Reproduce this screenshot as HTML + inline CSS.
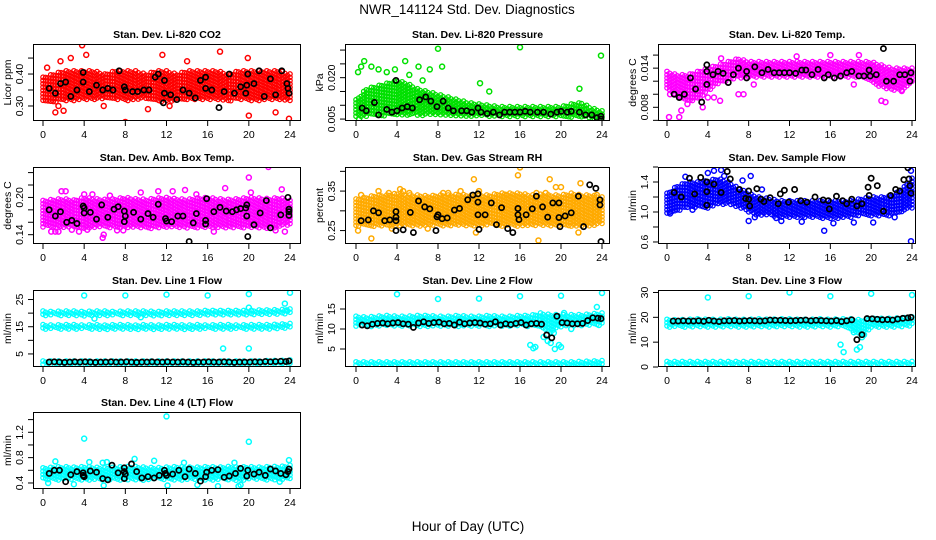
<!DOCTYPE html>
<html><head><meta charset="utf-8"><style>
html,body{margin:0;padding:0;background:#fff;}
svg{display:block;font-family:"Liberation Sans",Arial,sans-serif;}
</style></head><body>
<svg id="chart" width="936" height="540" viewBox="0 0 936 540" xmlns="http://www.w3.org/2000/svg">
<rect width="936" height="540" fill="#fff"/>
<text x="467" y="14" text-anchor="middle" font-size="13.5">NWR_141124  Std. Dev. Diagnostics</text>
<text x="468" y="531" text-anchor="middle" font-size="13.5">Hour of Day (UTC)</text>
</svg>
<script>
// ---------------- DATA ----------------
const hourTicks = [0,4,8,12,16,20,24];
const bandHours = [0,1,2,3,4,5,6,7,8,9,10,11,12,13,14,15,16,17,18,19,20,21,22,23,24];

// P1 CO2
const co2Lo = [0.315,0.31,0.315,0.315,0.32,0.32,0.32,0.32,0.315,0.32,0.32,0.315,0.31,0.315,0.32,0.32,0.32,0.32,0.315,0.32,0.315,0.315,0.32,0.315,0.315];
const co2Hi = [0.39,0.4,0.41,0.41,0.41,0.41,0.4,0.41,0.41,0.41,0.4,0.41,0.41,0.4,0.41,0.41,0.41,0.41,0.4,0.41,0.41,0.41,0.41,0.41,0.4];
const co2Out = [[1.2,0.28],[2,0.285],[3.8,0.49],[4.2,0.46],[8,0.25],[11.6,0.46],[17.2,0.47],[20,0.27],[23.9,0.26],[1.7,0.44],[2.7,0.45],[10.2,0.29],[22.6,0.28],[0.4,0.42],[1.5,0.3],[5.9,0.3],[14,0.44],[19.9,0.45],[12.3,0.3]];
const co2Black = [[0.6,0.355],[1.2,0.34],[1.7,0.37],[2.2,0.375],[2.7,0.33],[3.3,0.35],[3.9,0.405],[3.9,0.375],[4.5,0.345],[5.2,0.365],[5.8,0.35],[6.3,0.355],[6.8,0.35],[7.4,0.41],[7.9,0.36],[8,0.35],[8.7,0.345],[9.2,0.345],[9.8,0.35],[10.3,0.35],[10.9,0.39],[11.2,0.4],[11.7,0.31],[11.8,0.34],[11.8,0.38],[12.4,0.335],[13,0.32],[13.6,0.35],[14.2,0.34],[14.8,0.325],[15.3,0.38],[15.8,0.39],[15.8,0.355],[16.4,0.35],[17.1,0.295],[17.6,0.345],[18.1,0.4],[18.6,0.34],[19.2,0.36],[19.7,0.34],[19.8,0.365],[19.9,0.4],[20.5,0.37],[21,0.41],[21.5,0.33],[22.1,0.385],[22.6,0.335],[23.2,0.41],[23.7,0.37],[23.8,0.355],[23.9,0.34]];

// P2 Pressure
const presLo = [0.0055,0.006,0.006,0.0062,0.0062,0.0063,0.0063,0.0063,0.0063,0.0062,0.006,0.006,0.006,0.0058,0.0058,0.0058,0.0058,0.0058,0.0058,0.0058,0.0056,0.0056,0.0055,0.005,0.005];
const presHi = [0.012,0.016,0.017,0.018,0.019,0.018,0.016,0.015,0.014,0.013,0.012,0.011,0.0105,0.01,0.0095,0.0095,0.0095,0.0095,0.0095,0.0095,0.0095,0.0105,0.011,0.009,0.008];
const presOut = [[0.2,0.022],[0.5,0.024],[0.8,0.026],[1.5,0.024],[2.2,0.023],[3,0.022],[3.8,0.023],[4.8,0.026],[5.2,0.021],[6.1,0.024],[7.2,0.023],[8,0.0305],[8.4,0.024],[12.1,0.018],[16,0.031],[23.9,0.028],[0.3,0.005],[13,0.015],[21.8,0.016],[6.5,0.019]];
const presBlack = [[0.6,0.009],[1,0.008],[1.8,0.011],[2.2,0.0065],[3,0.0085],[3.5,0.0075],[3.9,0.019],[4,0.008],[4.5,0.009],[5,0.0095],[5.5,0.009],[6.2,0.012],[6.8,0.013],[7.3,0.0115],[7.9,0.0095],[8.5,0.0115],[9,0.009],[9.5,0.008],[10.3,0.008],[10.8,0.008],[11.3,0.0075],[11.9,0.009],[12.2,0.0075],[12.8,0.007],[13.4,0.0075],[14,0.0065],[14.5,0.0075],[15,0.0075],[15.5,0.0075],[16,0.0075],[16.5,0.0078],[17,0.0075],[17.7,0.0075],[18.3,0.0075],[19,0.0068],[19.6,0.0075],[20,0.0078],[20.6,0.0075],[21,0.0078],[21.8,0.0075],[22.4,0.0065],[23,0.0065],[23.5,0.0055],[23.9,0.006],[23.9,0.005]];

// P3 Temp
const tempLo = [0.0105,0.0095,0.009,0.009,0.0105,0.0115,0.012,0.0125,0.0125,0.0125,0.0125,0.0125,0.0125,0.0125,0.0125,0.0125,0.0125,0.0125,0.0125,0.0125,0.012,0.011,0.0105,0.0105,0.0115];
const tempHi = [0.0135,0.013,0.013,0.0135,0.014,0.0145,0.015,0.0155,0.015,0.015,0.015,0.015,0.015,0.015,0.015,0.015,0.015,0.015,0.015,0.015,0.015,0.0145,0.014,0.014,0.014];
const tempOut = [[0.2,0.0065],[0.3,0.01],[1.2,0.0065],[1.4,0.0075],[2,0.0085],[2.5,0.0095],[3.5,0.008],[4,0.0095],[4.6,0.0095],[5.2,0.009],[7,0.01],[7.5,0.01],[8.5,0.0115],[18.3,0.0115],[18.8,0.016],[21,0.009],[21.4,0.0088],[23,0.0105],[5.3,0.0155],[16,0.016],[12.7,0.0158]];
const tempBlack = [[0.7,0.01],[1.2,0.0095],[1.7,0.01],[2.3,0.0125],[2.8,0.0108],[3.4,0.0088],[3.9,0.0145],[3.9,0.0135],[3.9,0.0115],[4.5,0.013],[5,0.0135],[5.5,0.0132],[6,0.0118],[6.5,0.013],[7,0.014],[7.8,0.0135],[7.8,0.0125],[8.6,0.0142],[9.3,0.0133],[9.9,0.0138],[10.5,0.0133],[11,0.0133],[11.5,0.0133],[12,0.0133],[12.6,0.0132],[13.2,0.0137],[13.6,0.0137],[14.2,0.013],[14.8,0.0138],[15.4,0.0125],[15.8,0.013],[16.4,0.0125],[17,0.0128],[17.6,0.0133],[18.1,0.0135],[18.8,0.0128],[19.3,0.0128],[19.8,0.0137],[19.9,0.0128],[20.5,0.013],[21.2,0.017],[21.5,0.012],[22.2,0.012],[22.8,0.013],[23.3,0.013],[23.8,0.012],[23.9,0.0133]];

// P4 Amb Box Temp
const ambLo = [0.152,0.15,0.15,0.152,0.15,0.15,0.152,0.15,0.15,0.152,0.15,0.15,0.15,0.152,0.15,0.15,0.152,0.15,0.15,0.152,0.15,0.15,0.15,0.152,0.155];
const ambHi = [0.195,0.197,0.198,0.196,0.2,0.198,0.197,0.198,0.2,0.198,0.197,0.199,0.2,0.198,0.197,0.199,0.2,0.198,0.197,0.198,0.2,0.199,0.198,0.2,0.195];
const ambOut = [[0.8,0.145],[1.2,0.145],[1.5,0.145],[1.8,0.21],[2.2,0.21],[2.8,0.148],[3.5,0.145],[4,0.205],[4.3,0.148],[5.8,0.135],[6.5,0.203],[7.2,0.147],[7.8,0.147],[9.5,0.208],[11.2,0.21],[12.6,0.21],[13.8,0.212],[14.9,0.205],[16.6,0.145],[17.7,0.215],[20,0.232],[20.2,0.208],[21.9,0.249],[22.6,0.147],[23.5,0.145],[23.2,0.213],[4.8,0.205],[5.9,0.14]];
const ambBlack = [[0.6,0.18],[1.2,0.17],[1.7,0.177],[2.3,0.16],[2.8,0.163],[3.3,0.158],[3.9,0.186],[4,0.183],[4,0.175],[4.6,0.176],[5.2,0.165],[5.7,0.188],[6.3,0.168],[6.9,0.181],[7.3,0.185],[7.9,0.161],[7.9,0.178],[8,0.17],[8.8,0.176],[9.5,0.165],[10.2,0.174],[10.7,0.168],[11.2,0.189],[11.9,0.166],[12,0.162],[12.5,0.161],[13.1,0.17],[13.6,0.17],[14.2,0.129],[14.6,0.159],[14.9,0.174],[15.8,0.163],[15.8,0.157],[15.9,0.198],[16.6,0.177],[17.2,0.184],[17.8,0.178],[18.4,0.177],[18.8,0.18],[19.2,0.182],[19.7,0.183],[19.8,0.188],[19.8,0.17],[19.9,0.137],[20.5,0.156],[21.1,0.175],[21.7,0.195],[22.1,0.151],[23.1,0.172],[23.8,0.2],[23.9,0.181],[23.9,0.177],[23.9,0.171]];

// P5 Gas stream RH
const rhLo = [0.26,0.262,0.26,0.262,0.26,0.262,0.26,0.26,0.262,0.26,0.262,0.26,0.26,0.262,0.26,0.262,0.26,0.26,0.262,0.26,0.262,0.26,0.26,0.262,0.265];
const rhHi = [0.33,0.335,0.34,0.34,0.345,0.34,0.34,0.338,0.34,0.34,0.342,0.34,0.34,0.34,0.345,0.345,0.345,0.34,0.342,0.34,0.34,0.345,0.34,0.34,0.335];
const rhOut = [[0.2,0.25],[0.5,0.34],[1.5,0.23],[2.2,0.35],[3.2,0.345],[3.5,0.255],[4.3,0.355],[4.6,0.35],[5.2,0.345],[6,0.33],[7,0.255],[8.5,0.345],[9,0.345],[10.2,0.35],[11.5,0.38],[11.7,0.245],[12,0.35],[14.7,0.34],[15.8,0.39],[16,0.41],[17.6,0.345],[17.8,0.225],[18.5,0.345],[18.9,0.38],[19.5,0.36],[20,0.36],[21.9,0.37],[21.7,0.245],[23.5,0.34]];
const rhBlack = [[0.5,0.275],[1.2,0.277],[1.7,0.3],[2.2,0.295],[2.8,0.275],[3.3,0.277],[3.9,0.298],[3.9,0.284],[3.9,0.275],[3.9,0.25],[4.6,0.252],[5.3,0.296],[5.6,0.245],[6.1,0.325],[6.7,0.31],[7.2,0.305],[7.8,0.25],[7.9,0.285],[8,0.29],[8.4,0.28],[8.9,0.282],[9.6,0.302],[10.1,0.306],[10.9,0.328],[11.4,0.34],[11.9,0.343],[11.9,0.322],[11.9,0.29],[12,0.253],[12.6,0.29],[13.2,0.32],[13.7,0.265],[14.2,0.308],[14.8,0.255],[15.3,0.245],[15.8,0.306],[15.8,0.29],[15.9,0.278],[16.6,0.29],[17.2,0.305],[17.6,0.337],[18.2,0.31],[18.7,0.284],[19.2,0.32],[19.8,0.32],[19.8,0.283],[19.9,0.26],[20.4,0.287],[21,0.295],[21.7,0.337],[22.2,0.26],[22.8,0.366],[23.4,0.357],[23.8,0.328],[23.8,0.315],[23.9,0.222]];

// P6 Sample flow
const sfLo = [0.98,1.0,1.05,1.05,1.05,1.1,1.1,1.05,1.0,0.95,0.95,0.92,0.92,0.92,0.92,0.92,0.9,0.92,0.92,0.95,0.95,0.95,0.95,0.98,1.05];
const sfHi = [1.25,1.35,1.4,1.4,1.42,1.45,1.4,1.32,1.25,1.2,1.18,1.15,1.15,1.15,1.15,1.15,1.15,1.15,1.15,1.18,1.2,1.2,1.22,1.3,1.45];
const sfOut = [[0.3,0.98],[1.8,1.47],[2.5,1.03],[4,1.52],[4.6,1.55],[5.3,1.56],[5.6,1.48],[7.4,1.42],[8.2,1.48],[8,0.88],[8.6,0.93],[10.7,0.92],[11.2,0.88],[13.2,0.87],[15.4,0.75],[16.3,0.85],[18.3,0.86],[20.2,0.86],[22.3,0.93],[23.9,0.61],[23.9,1.55],[9.3,1.3]];
const sfBlack = [[0.7,1.26],[1.4,1.2],[2.2,1.45],[2.7,1.24],[3.3,1.46],[3.9,1.4],[3.9,1.27],[3.9,1.09],[4.6,1.37],[5.3,1.26],[5.9,1.54],[6.2,1.44],[7.1,1.3],[7.7,1.18],[8,1.28],[8,1.17],[8.1,1.08],[8.8,1.31],[9.2,1.17],[9.5,1.14],[10.1,1.19],[10.9,1.11],[11.1,1.24],[11.5,1.29],[11.9,1.13],[12.5,1.3],[13.1,1.15],[13.7,1.13],[14.5,1.2],[15.3,1.16],[15.8,1.15],[15.9,1.04],[16.6,1.21],[17.2,1.15],[17.6,1.11],[18.1,1.17],[18.6,1.08],[19.1,1.11],[19.7,1.33],[19.8,1.22],[20,1.45],[20.6,1.35],[21.2,1.01],[21.9,1.22],[22.4,1.3],[22.8,1.28],[23.2,1.43],[23.6,1.59],[23.7,1.44],[23.8,1.35],[23.9,1.25]];

// Row 3 black-point hours
const blackHours = [0.6,1.1,1.6,2.1,2.6,3.1,3.6,4.1,4.6,5.1,5.6,6.1,6.6,7.1,7.6,8.1,8.6,9.1,9.6,10.1,10.6,11.1,11.6,12.1,12.6,13.1,13.6,14.1,14.6,15.1,15.6,16.1,16.6,17.1,17.6,18.1,18.6,19.1,19.6,20.1,20.6,21.1,21.6,22.1,22.6,23.1,23.6,23.9];

// P7 Line 1
const l1UpLo = [19,19,19,19,18.8,19,19,19,19,19,19,19,19,19,19,19,19,19,19,19,19.2,19.2,19.2,19.3,19.5];
const l1UpHi = [20.8,20.6,20.8,20.8,20.6,20.8,20.8,20.6,20.8,20.8,20.8,20.6,20.8,20.8,20.8,20.8,21,21,21,21,21,21.2,21.2,21.3,21.5];
const l1MidLo = [14,14,14,14,14,14,14,14,14,14,14,14,14,14,14,14,14,14,14,14,14,14,14,14,14.5];
const l1MidHi = [15.8,15.6,15.8,15.8,15.6,15.8,15.6,15.8,15.8,15.6,15.8,15.6,15.8,15.8,15.6,15.8,15.6,15.8,15.8,15.6,15.8,15.8,15.8,16,16.2];
const l1LowLo = [1,1,1,1,1,1,1,1,1,1,1,1,1,1,1,1,1,1,1,1,1,1,1,1,1];
const l1LowHi = [2.4,2.4,2.4,2.4,2.4,2.4,2.4,2.4,2.4,2.4,2.4,2.4,2.4,2.4,2.4,2.4,2.4,2.4,2.4,2.4,2.4,2.4,2.6,2.6,2.8];
const l1Out = [[4,26.5],[8,26.5],[12,26.8],[16,26.5],[20,27],[24,27.5],[17.5,7],[20,7],[20,22],[23.5,23.5],[23.7,21],[5,18],[9.5,18.5]];
const l1Black = [2.0,2.1,2.0,1.9,2.0,2.1,2.0,2.1,2.0,1.9,2.0,2.0,2.1,2.0,2.0,2.1,2.0,1.9,2.0,2.0,2.1,2.0,2.0,2.1,2.0,2.0,2.1,2.0,1.9,2.0,2.0,2.1,2.0,2.0,2.1,2.0,1.9,2.0,2.0,2.0,2.1,2.0,2.2,2.1,2.2,2.3,2.2,2.4];

// P8 Line 2
const l2UpLo = [10.6,10.6,10.6,10.6,10.7,10.6,10.6,10.6,10.7,10.6,10.6,10.6,10.7,10.6,10.6,10.6,10.7,10.6,10,9,10.5,10.6,10.6,10.8,11];
const l2UpHi = [13.2,13,13.2,13.4,13.2,13.2,13.4,13.4,13.2,13.2,13.4,13.2,13.2,13.4,13.2,13.2,13.4,13.4,14,13.6,13.6,13.6,13.6,13.8,14];
const l2LowLo = [0.7,0.7,0.7,0.7,0.7,0.7,0.7,0.7,0.7,0.7,0.7,0.7,0.7,0.7,0.7,0.7,0.7,0.7,0.7,0.7,0.7,0.7,0.7,0.7,0.7];
const l2LowHi = [1.8,1.8,1.8,1.8,1.8,1.8,1.8,1.8,1.8,1.8,1.8,1.8,1.8,1.8,1.8,1.8,1.8,1.8,1.8,1.8,1.8,1.8,1.9,2,2.1];
const l2Out = [[4,18.7],[8,17.5],[12,17.6],[16,18.2],[20,18.3],[24,19],[17,6],[17.5,5.5],[17.3,5.2],[18.3,8],[18.7,7],[19,6.5],[19.4,5],[19.8,6],[20,5.5],[19.3,9],[20.3,14],[21,10],[23.5,15.5],[23.7,11]];
const l2Black = [11.0,10.8,11.2,11.4,11.5,11.3,11.5,11.6,11.3,11.2,10.4,11.5,11.8,11.4,11.6,11.7,11.3,11.4,11.0,11.7,11.3,11.5,11.6,11.5,11.2,11.3,11.8,11.0,11.3,11.1,11.4,11.6,11.0,11.3,11.4,11.2,8.5,7.8,13.2,11.6,11.5,11.3,11.3,11.4,12.1,12.8,12.7,12.6];

// P9 Line 3
const l3UpLo = [16,16,16,16,16,16,16,16,16,16,16,16,16,16,16,16,16,16,15,12,16,16,16,16,16.5];
const l3UpHi = [19.2,19,19.2,19.4,19.2,19.2,19.4,19.2,19.2,19.4,19.2,19.4,19.4,19.2,19.2,19.4,19.2,19.4,19.4,19,19.6,19.6,19.6,19.8,20.2];
const l3LowLo = [0.7,0.7,0.7,0.7,0.7,0.7,0.7,0.7,0.7,0.7,0.7,0.7,0.7,0.7,0.7,0.7,0.7,0.7,0.7,0.7,0.7,0.7,0.7,0.7,0.7];
const l3LowHi = [2.2,2.2,2.2,2.2,2.2,2.2,2.2,2.2,2.2,2.2,2.2,2.2,2.2,2.2,2.2,2.2,2.2,2.2,2.2,2.2,2.2,2.2,2.2,2.2,2.2];
const l3Out = [[4,28],[8,28.5],[12,30],[16,28.5],[20,29.5],[24,29],[17,9],[17.3,6],[18.6,7],[18.9,8],[19.1,12],[19.3,13],[18.3,14]];
const l3Black = [18.5,18.5,18.6,18.5,18.5,18.6,18.4,18.8,18.5,18.3,18.6,18.6,18.7,18.5,18.6,18.7,18.6,18.5,18.6,18.9,18.8,18.8,18.7,18.6,18.7,18.8,18.9,18.6,18.8,18.7,18.6,18.5,18.7,18.3,18.6,19.0,11.0,13.0,19.5,19.4,19.2,19.0,19.1,18.9,19.3,19.6,19.8,20.0];

// P10 Line 4 (LT)
const l4Lo = [0.45,0.44,0.45,0.45,0.44,0.45,0.45,0.44,0.45,0.45,0.44,0.45,0.45,0.44,0.45,0.45,0.44,0.45,0.45,0.44,0.45,0.45,0.44,0.45,0.46];
const l4Hi = [0.64,0.65,0.66,0.65,0.66,0.65,0.64,0.65,0.66,0.66,0.65,0.64,0.65,0.66,0.65,0.65,0.66,0.65,0.66,0.65,0.66,0.65,0.66,0.66,0.68];
const l4Out = [[4,1.1],[12,1.45],[20,1.05],[4.5,0.73],[1.2,0.74],[8.9,0.78],[10.8,0.75],[13.7,0.72],[18.6,0.72],[23.9,0.76],[0.5,0.4],[3,0.38],[5.9,0.36],[12.1,0.36],[17,0.35],[19,0.35],[19.2,0.37],[15,0.37],[23,0.42],[5.8,0.72],[6.2,0.73]];
const l4Black = [[0.6,0.55],[1.1,0.6],[1.6,0.6],[2.2,0.42],[2.7,0.53],[3.3,0.58],[3.9,0.56],[3.9,0.52],[4,0.5],[4.6,0.59],[5.2,0.57],[5.8,0.47],[6.3,0.45],[6.7,0.68],[7.3,0.56],[7.9,0.64],[7.9,0.58],[8,0.54],[7.9,0.47],[8.6,0.7],[9.1,0.58],[9.6,0.48],[10.2,0.5],[10.8,0.48],[11.3,0.52],[11.8,0.6],[11.9,0.55],[12,0.52],[12.6,0.54],[13.2,0.6],[13.8,0.5],[14.2,0.62],[14.8,0.55],[15.3,0.43],[15.8,0.5],[15.9,0.57],[16.4,0.6],[17,0.61],[17.6,0.49],[18.1,0.51],[18.7,0.55],[19.2,0.63],[19.8,0.51],[19.9,0.6],[20.5,0.54],[21,0.57],[21.6,0.52],[22.1,0.62],[22.6,0.59],[23.1,0.55],[23.6,0.53],[23.8,0.58],[23.9,0.62]];

// tick values and labels
const co2Ticks=[0.30,0.35,0.40,0.45], co2Labels=["0.30","","0.40",""];
const presTicks=[0.005,0.010,0.015,0.020,0.025,0.030], presLabels=["0.005","","","0.020","",""];
const tempTicks=[0.006,0.008,0.010,0.012,0.014,0.016], tempLabels=["","0.008","","","0.014",""];
const ambTicks=[0.14,0.16,0.18,0.20,0.22,0.24], ambLabels=["0.14","","","0.20","",""];
const rhTicks=[0.25,0.30,0.35,0.40], rhLabels=["0.25","","0.35",""];
const sfTicks=[0.6,0.8,1.0,1.2,1.4,1.6], sfLabels=["0.6","","1.0","","1.4",""];
const l1Ticks=[5,10,15,20,25], l1Labels=["5","","15","","25"];
const l2Ticks=[5,10,15], l2Labels=["5","10","15"];
const l3Ticks=[0,10,20,30], l3Labels=["0","10","20","30"];
const l4Ticks=[0.4,0.6,0.8,1.0,1.2,1.4], l4Labels=["0.4","","0.8","","1.2",""];

// ---------------- RENDER ----------------
const NS="http://www.w3.org/2000/svg";
const svg=document.getElementById('chart');
const cols=[{l:33,r:301,x0:43,x24:290},{l:345,r:610,x0:356,x24:602},{l:658,r:916,x0:667,x24:912}];
const rowTops=[44,167,290,412];
const BH=77;
function el(tag,attrs,parent){const e=document.createElementNS(NS,tag);for(const k in attrs)e.setAttribute(k,attrs[k]);(parent||svg).appendChild(e);return e;}

function drawPanel(p){
  const c=cols[p.col], top=rowTops[p.row], bot=top+BH;
  const g=el('g',{});
  
  
  const xs=h=>c.x0+h*(c.x24-c.x0)/24;
  const ys=v=>bot-(v-p.ylim[0])/(p.ylim[1]-p.ylim[0])*BH;
  const clip='clip-'+p.name;
  const cp=el('clipPath',{id:clip},g); el('rect',{x:c.l,y:top,width:c.r-c.l,height:BH},cp);
  const marks=el('g',{'clip-path':'url(#'+clip+')'},g);
  p.bands.forEach((b,bi)=>{
    const bg=el('g',{fill:'none',stroke:p.color,'stroke-width':1.25},marks);
    
    
    let k=0;
    for(let t=0;t<=24.001;t+=0.25){
      const i=Math.min(23,Math.floor(t)), f=t-i;
      const lo=b.lo[i]+(b.lo[i+1]-b.lo[i])*f, hi=b.hi[i]+(b.hi[i+1]-b.hi[i])*f;
      const y1=ys(hi), y2=ys(lo);
      const off=(k%3)*1.1; k++;
      for(let y=y1+off;y<=y2;y+=3.3){
        el('circle',{cx:xs(t).toFixed(1),cy:y.toFixed(1),r:2.2},bg);
      }
    }
  });
  const og=el('g',{fill:'none',stroke:p.color,'stroke-width':1.5},marks);
  
  
  p.out.forEach(d=>el('circle',{cx:xs(d[0]),cy:ys(d[1]),r:2.5},og));
  const kg=el('g',{fill:'none',stroke:'#000','stroke-width':1.7},marks);
  
  
  p.black.forEach(d=>el('circle',{cx:xs(d[0]),cy:ys(d[1]),r:2.6},kg));
  el('rect',{x:c.l+0.5,y:top+0.5,width:c.r-c.l-1,height:BH-1,fill:'none',stroke:'#000','stroke-width':1},g);
  hourTicks.forEach(h=>{
    const x=xs(h);
    el('line',{x1:x,y1:bot,x2:x,y2:bot+5,stroke:'#000'},g);
    const t=el('text',{x:x,y:bot+17,'text-anchor':'middle','font-size':10.5},g); t.textContent=h;
  });
  p.ticks.forEach((v,i)=>{
    const y=ys(v);
    el('line',{x1:c.l-5,y1:y,x2:c.l,y2:y,stroke:'#000'},g);
    if(p.labels[i]){
      const t=el('text',{x:0,y:0,'text-anchor':'middle','font-size':10.5,transform:`translate(${c.l-10},${y}) rotate(-90)`},g);
      t.textContent=p.labels[i];
    }
  });
  const yt=el('text',{x:0,y:0,'text-anchor':'middle','font-size':10.5,transform:`translate(${c.l-22},${top+BH/2}) rotate(-90)`},g);
  yt.textContent=p.ylab;
  const tt=el('text',{x:(c.l+c.r)/2,y:top-6,'text-anchor':'middle','font-size':10.5,'font-weight':'bold'},g);
  tt.textContent=p.title;
}
const pair=(hs,vs)=>hs.map((h,i)=>[h,vs[i]]);
const panels=[
 {name:'panel-co2',col:0,row:0,title:'Stan. Dev. Li-820 CO2',ylab:'Licor ppm',ylim:[0.253,0.494],ticks:co2Ticks,labels:co2Labels,color:'#ff0000',bands:[{lo:co2Lo,hi:co2Hi}],out:co2Out,black:co2Black},
 {name:'panel-pressure',col:1,row:0,title:'Stan. Dev. Li-820 Pressure',ylab:'kPa',ylim:[0.0043,0.0322],ticks:presTicks,labels:presLabels,color:'#00e000',bands:[{lo:presLo,hi:presHi}],out:presOut,black:presBlack},
 {name:'panel-temp',col:2,row:0,title:'Stan. Dev. Li-820 Temp.',ylab:'degrees C',ylim:[0.0059,0.0177],ticks:tempTicks,labels:tempLabels,color:'#ff00ff',bands:[{lo:tempLo,hi:tempHi}],out:tempOut,black:tempBlack},
 {name:'panel-amb-box-temp',col:0,row:1,title:'Stan. Dev. Amb. Box Temp.',ylab:'degrees C',ylim:[0.125,0.249],ticks:ambTicks,labels:ambLabels,color:'#ff00ff',bands:[{lo:ambLo,hi:ambHi}],out:ambOut,black:ambBlack},
 {name:'panel-gas-rh',col:1,row:1,title:'Stan. Dev. Gas Stream RH',ylab:'percent',ylim:[0.216,0.411],ticks:rhTicks,labels:rhLabels,color:'#ffaa00',bands:[{lo:rhLo,hi:rhHi}],out:rhOut,black:rhBlack},
 {name:'panel-sample-flow',col:2,row:1,title:'Stan. Dev. Sample Flow',ylab:'ml/min',ylim:[0.573,1.60],ticks:sfTicks,labels:sfLabels,color:'#0000ff',bands:[{lo:sfLo,hi:sfHi}],out:sfOut,black:sfBlack},
 {name:'panel-line1-flow',col:0,row:2,title:'Stan. Dev. Line 1 Flow',ylab:'ml/min',ylim:[0.2,28.5],ticks:l1Ticks,labels:l1Labels,color:'#00ffff',bands:[{lo:l1UpLo,hi:l1UpHi},{lo:l1MidLo,hi:l1MidHi},{lo:l1LowLo,hi:l1LowHi}],out:l1Out,black:pair(blackHours,l1Black)},
 {name:'panel-line2-flow',col:1,row:2,title:'Stan. Dev. Line 2 Flow',ylab:'ml/min',ylim:[0.5,19.75],ticks:l2Ticks,labels:l2Labels,color:'#00ffff',bands:[{lo:l2UpLo,hi:l2UpHi},{lo:l2LowLo,hi:l2LowHi}],out:l2Out,black:pair(blackHours,l2Black)},
 {name:'panel-line3-flow',col:2,row:2,title:'Stan. Dev. Line 3 Flow',ylab:'ml/min',ylim:[0,31],ticks:l3Ticks,labels:l3Labels,color:'#00ffff',bands:[{lo:l3UpLo,hi:l3UpHi},{lo:l3LowLo,hi:l3LowHi}],out:l3Out,black:pair(blackHours,l3Black)},
 {name:'panel-line4-flow',col:0,row:3,title:'Stan. Dev. Line 4 (LT) Flow',ylab:'ml/min',ylim:[0.305,1.52],ticks:l4Ticks,labels:l4Labels,color:'#00ffff',bands:[{lo:l4Lo,hi:l4Hi}],out:l4Out,black:l4Black}
];
panels.forEach(drawPanel);
</script>
</body></html>
